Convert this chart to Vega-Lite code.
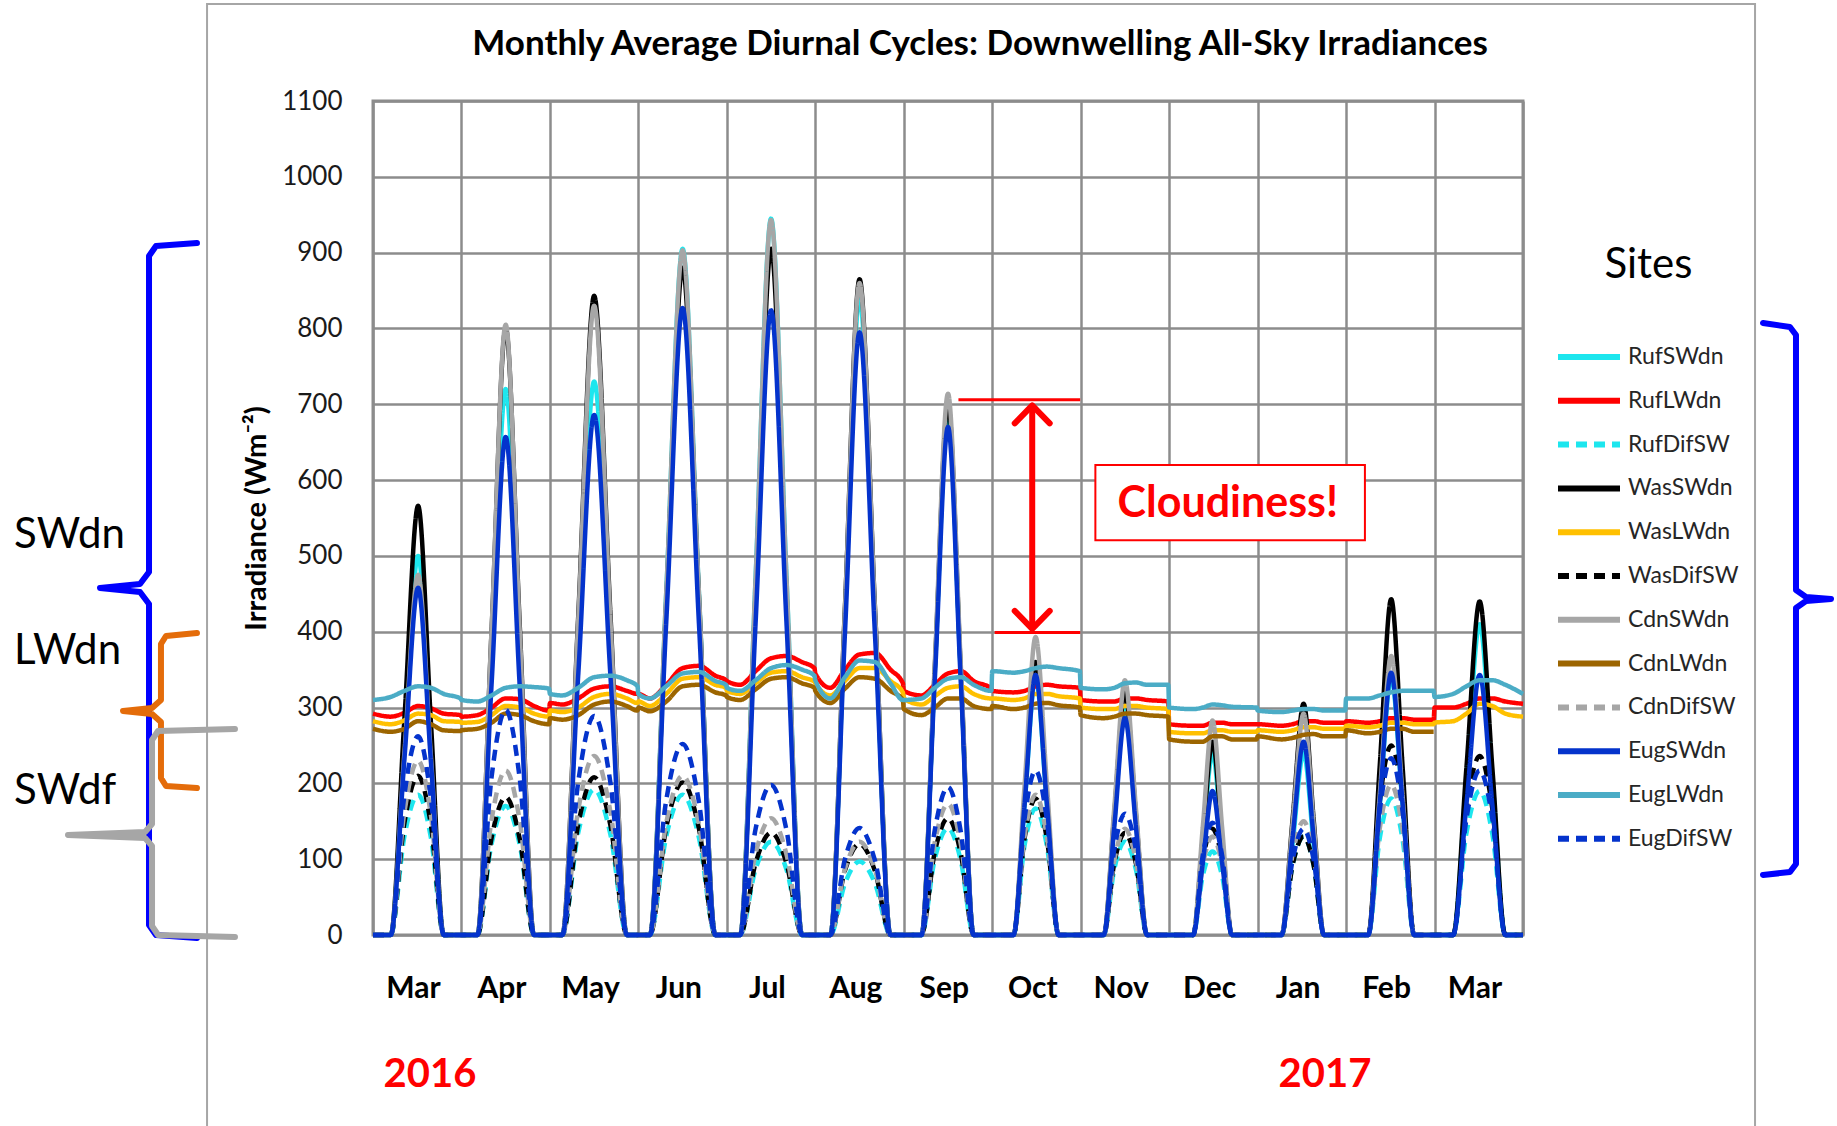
{
  "$schema": "https://vega.github.io/schema/vega-lite/v6.json",
  "width": 1150,
  "height": 834,
  "autosize": {"type": "none"},
  "padding": {"left": 373, "top": 101, "right": 314, "bottom": 191},
  "background": "white",
  "config": {"font": "Lato", "view": {"stroke": "#8c8c8c", "strokeWidth": 3}},
  "datasets": {
    "series": [
      {"x":0,"RufSWdn":0,"RufLWdn":292,"RufDifSW":0,"WasSWdn":0,"WasLWdn":282,"WasDifSW":0,"CdnSWdn":0,"CdnLWdn":272,"CdnDifSW":0,"EugSWdn":0,"EugLWdn":310,"EugDifSW":0},
      {"x":0.2,"RufSWdn":0,"RufLWdn":288,"RufDifSW":0,"WasSWdn":0,"WasLWdn":278,"WasDifSW":0,"CdnSWdn":0,"CdnLWdn":268,"CdnDifSW":0,"EugSWdn":0,"EugLWdn":314,"EugDifSW":0},
      {"x":0.355,"RufSWdn":255,"RufLWdn":293,"RufDifSW":130,"WasSWdn":285,"WasLWdn":283,"WasDifSW":148,"CdnSWdn":240,"CdnLWdn":272,"CdnDifSW":162,"EugSWdn":232,"EugLWdn":322,"EugDifSW":185},
      {"x":0.51,"RufSWdn":500,"RufLWdn":302,"RufDifSW":185,"WasSWdn":566,"WasLWdn":292,"WasDifSW":210,"CdnSWdn":475,"CdnLWdn":282,"CdnDifSW":230,"EugSWdn":458,"EugLWdn":328,"EugDifSW":262},
      {"x":0.655,"RufSWdn":250,"RufLWdn":299,"RufDifSW":128,"WasSWdn":280,"WasLWdn":290,"WasDifSW":145,"CdnSWdn":235,"CdnLWdn":278,"CdnDifSW":158,"EugSWdn":228,"EugLWdn":326,"EugDifSW":180},
      {"x":0.8,"RufSWdn":0,"RufLWdn":292,"RufDifSW":0,"WasSWdn":0,"WasLWdn":282,"WasDifSW":0,"CdnSWdn":0,"CdnLWdn":270,"CdnDifSW":0,"EugSWdn":0,"EugLWdn":318,"EugDifSW":0},
      {"x":0.99,"RufSWdn":0,"RufLWdn":290,"RufDifSW":0,"WasSWdn":0,"WasLWdn":281,"WasDifSW":0,"CdnSWdn":0,"CdnLWdn":269,"CdnDifSW":0,"EugSWdn":0,"EugLWdn":312,"EugDifSW":0},

      {"x":1,"RufSWdn":0,"RufLWdn":288,"RufDifSW":0,"WasSWdn":0,"WasLWdn":280,"WasDifSW":0,"CdnSWdn":0,"CdnLWdn":270,"CdnDifSW":0,"EugSWdn":0,"EugLWdn":310,"EugDifSW":0},
      {"x":1.18,"RufSWdn":0,"RufLWdn":290,"RufDifSW":0,"WasSWdn":0,"WasLWdn":281,"WasDifSW":0,"CdnSWdn":0,"CdnLWdn":272,"CdnDifSW":0,"EugSWdn":0,"EugLWdn":308,"EugDifSW":0},
      {"x":1.34,"RufSWdn":360,"RufLWdn":300,"RufDifSW":120,"WasSWdn":400,"WasLWdn":290,"WasDifSW":128,"CdnSWdn":402,"CdnLWdn":280,"CdnDifSW":152,"EugSWdn":330,"EugLWdn":316,"EugDifSW":208},
      {"x":1.5,"RufSWdn":720,"RufLWdn":312,"RufDifSW":170,"WasSWdn":800,"WasLWdn":302,"WasDifSW":182,"CdnSWdn":805,"CdnLWdn":292,"CdnDifSW":217,"EugSWdn":657,"EugLWdn":326,"EugDifSW":297},
      {"x":1.66,"RufSWdn":355,"RufLWdn":311,"RufDifSW":118,"WasSWdn":405,"WasLWdn":300,"WasDifSW":126,"CdnSWdn":398,"CdnLWdn":290,"CdnDifSW":150,"EugSWdn":325,"EugLWdn":328,"EugDifSW":205},
      {"x":1.82,"RufSWdn":0,"RufLWdn":302,"RufDifSW":0,"WasSWdn":0,"WasLWdn":292,"WasDifSW":0,"CdnSWdn":0,"CdnLWdn":282,"CdnDifSW":0,"EugSWdn":0,"EugLWdn":327,"EugDifSW":0},
      {"x":1.99,"RufSWdn":0,"RufLWdn":296,"RufDifSW":0,"WasSWdn":0,"WasLWdn":288,"WasDifSW":0,"CdnSWdn":0,"CdnLWdn":278,"CdnDifSW":0,"EugSWdn":0,"EugLWdn":325,"EugDifSW":0},

      {"x":2,"RufSWdn":0,"RufLWdn":306,"RufDifSW":0,"WasSWdn":0,"WasLWdn":296,"WasDifSW":0,"CdnSWdn":0,"CdnLWdn":286,"CdnDifSW":0,"EugSWdn":0,"EugLWdn":318,"EugDifSW":0},
      {"x":2.14,"RufSWdn":0,"RufLWdn":304,"RufDifSW":0,"WasSWdn":0,"WasLWdn":294,"WasDifSW":0,"CdnSWdn":0,"CdnLWdn":284,"CdnDifSW":0,"EugSWdn":0,"EugLWdn":316,"EugDifSW":0},
      {"x":2.32,"RufSWdn":365,"RufLWdn":312,"RufDifSW":135,"WasSWdn":420,"WasLWdn":300,"WasDifSW":146,"CdnSWdn":415,"CdnLWdn":290,"CdnDifSW":165,"EugSWdn":343,"EugLWdn":326,"EugDifSW":202},
      {"x":2.5,"RufSWdn":730,"RufLWdn":325,"RufDifSW":192,"WasSWdn":843,"WasLWdn":314,"WasDifSW":208,"CdnSWdn":830,"CdnLWdn":304,"CdnDifSW":236,"EugSWdn":686,"EugLWdn":340,"EugDifSW":289},
      {"x":2.685,"RufSWdn":365,"RufLWdn":328,"RufDifSW":132,"WasSWdn":420,"WasLWdn":318,"WasDifSW":144,"CdnSWdn":412,"CdnLWdn":308,"CdnDifSW":162,"EugSWdn":340,"EugLWdn":342,"EugDifSW":200},
      {"x":2.87,"RufSWdn":0,"RufLWdn":322,"RufDifSW":0,"WasSWdn":0,"WasLWdn":312,"WasDifSW":0,"CdnSWdn":0,"CdnLWdn":302,"CdnDifSW":0,"EugSWdn":0,"EugLWdn":336,"EugDifSW":0},
      {"x":2.99,"RufSWdn":0,"RufLWdn":318,"RufDifSW":0,"WasSWdn":0,"WasLWdn":306,"WasDifSW":0,"CdnSWdn":0,"CdnLWdn":296,"CdnDifSW":0,"EugSWdn":0,"EugLWdn":328,"EugDifSW":0},

      {"x":3,"RufSWdn":0,"RufLWdn":318,"RufDifSW":0,"WasSWdn":0,"WasLWdn":308,"WasDifSW":0,"CdnSWdn":0,"CdnLWdn":300,"CdnDifSW":0,"EugSWdn":0,"EugLWdn":318,"EugDifSW":0},
      {"x":3.13,"RufSWdn":0,"RufLWdn":312,"RufDifSW":0,"WasSWdn":0,"WasLWdn":302,"WasDifSW":0,"CdnSWdn":0,"CdnLWdn":295,"CdnDifSW":0,"EugSWdn":0,"EugLWdn":312,"EugDifSW":0},
      {"x":3.315,"RufSWdn":452,"RufLWdn":330,"RufDifSW":130,"WasSWdn":440,"WasLWdn":318,"WasDifSW":142,"CdnSWdn":452,"CdnLWdn":308,"CdnDifSW":148,"EugSWdn":413,"EugLWdn":328,"EugDifSW":178},
      {"x":3.5,"RufSWdn":905,"RufLWdn":352,"RufDifSW":185,"WasSWdn":880,"WasLWdn":338,"WasDifSW":201,"CdnSWdn":903,"CdnLWdn":328,"CdnDifSW":210,"EugSWdn":827,"EugLWdn":345,"EugDifSW":252},
      {"x":3.685,"RufSWdn":450,"RufLWdn":355,"RufDifSW":128,"WasSWdn":445,"WasLWdn":340,"WasDifSW":140,"CdnSWdn":450,"CdnLWdn":330,"CdnDifSW":146,"EugSWdn":410,"EugLWdn":347,"EugDifSW":175},
      {"x":3.87,"RufSWdn":0,"RufLWdn":342,"RufDifSW":0,"WasSWdn":0,"WasLWdn":330,"WasDifSW":0,"CdnSWdn":0,"CdnLWdn":320,"CdnDifSW":0,"EugSWdn":0,"EugLWdn":335,"EugDifSW":0},
      {"x":3.99,"RufSWdn":0,"RufLWdn":336,"RufDifSW":0,"WasSWdn":0,"WasLWdn":326,"WasDifSW":0,"CdnSWdn":0,"CdnLWdn":316,"CdnDifSW":0,"EugSWdn":0,"EugLWdn":330,"EugDifSW":0},

      {"x":4,"RufSWdn":0,"RufLWdn":335,"RufDifSW":0,"WasSWdn":0,"WasLWdn":322,"WasDifSW":0,"CdnSWdn":0,"CdnLWdn":314,"CdnDifSW":0,"EugSWdn":0,"EugLWdn":326,"EugDifSW":0},
      {"x":4.15,"RufSWdn":0,"RufLWdn":330,"RufDifSW":0,"WasSWdn":0,"WasLWdn":318,"WasDifSW":0,"CdnSWdn":0,"CdnLWdn":310,"CdnDifSW":0,"EugSWdn":0,"EugLWdn":322,"EugDifSW":0},
      {"x":4.325,"RufSWdn":472,"RufLWdn":348,"RufDifSW":87,"WasSWdn":452,"WasLWdn":332,"WasDifSW":95,"CdnSWdn":470,"CdnLWdn":324,"CdnDifSW":108,"EugSWdn":412,"EugLWdn":336,"EugDifSW":140},
      {"x":4.5,"RufSWdn":945,"RufLWdn":365,"RufDifSW":123,"WasSWdn":905,"WasLWdn":346,"WasDifSW":135,"CdnSWdn":943,"CdnLWdn":338,"CdnDifSW":154,"EugSWdn":824,"EugLWdn":352,"EugDifSW":198},
      {"x":4.675,"RufSWdn":470,"RufLWdn":368,"RufDifSW":86,"WasSWdn":450,"WasLWdn":348,"WasDifSW":94,"CdnSWdn":468,"CdnLWdn":340,"CdnDifSW":106,"EugSWdn":410,"EugLWdn":356,"EugDifSW":138},
      {"x":4.85,"RufSWdn":0,"RufLWdn":360,"RufDifSW":0,"WasSWdn":0,"WasLWdn":340,"WasDifSW":0,"CdnSWdn":0,"CdnLWdn":332,"CdnDifSW":0,"EugSWdn":0,"EugLWdn":350,"EugDifSW":0},
      {"x":4.99,"RufSWdn":0,"RufLWdn":352,"RufDifSW":0,"WasSWdn":0,"WasLWdn":334,"WasDifSW":0,"CdnSWdn":0,"CdnLWdn":326,"CdnDifSW":0,"EugSWdn":0,"EugLWdn":342,"EugDifSW":0},

      {"x":5,"RufSWdn":0,"RufLWdn":345,"RufDifSW":0,"WasSWdn":0,"WasLWdn":332,"WasDifSW":0,"CdnSWdn":0,"CdnLWdn":322,"CdnDifSW":0,"EugSWdn":0,"EugLWdn":336,"EugDifSW":0},
      {"x":5.17,"RufSWdn":0,"RufLWdn":326,"RufDifSW":0,"WasSWdn":0,"WasLWdn":316,"WasDifSW":0,"CdnSWdn":0,"CdnLWdn":306,"CdnDifSW":0,"EugSWdn":0,"EugLWdn":312,"EugDifSW":0},
      {"x":5.335,"RufSWdn":420,"RufLWdn":350,"RufDifSW":68,"WasSWdn":432,"WasLWdn":335,"WasDifSW":85,"CdnSWdn":430,"CdnLWdn":325,"CdnDifSW":87,"EugSWdn":398,"EugLWdn":340,"EugDifSW":100},
      {"x":5.5,"RufSWdn":840,"RufLWdn":370,"RufDifSW":97,"WasSWdn":865,"WasLWdn":352,"WasDifSW":120,"CdnSWdn":860,"CdnLWdn":340,"CdnDifSW":123,"EugSWdn":795,"EugLWdn":362,"EugDifSW":141},
      {"x":5.675,"RufSWdn":418,"RufLWdn":372,"RufDifSW":68,"WasSWdn":430,"WasLWdn":352,"WasDifSW":84,"CdnSWdn":428,"CdnLWdn":338,"CdnDifSW":86,"EugSWdn":395,"EugLWdn":360,"EugDifSW":98},
      {"x":5.85,"RufSWdn":0,"RufLWdn":350,"RufDifSW":0,"WasSWdn":0,"WasLWdn":335,"WasDifSW":0,"CdnSWdn":0,"CdnLWdn":322,"CdnDifSW":0,"EugSWdn":0,"EugLWdn":332,"EugDifSW":0},
      {"x":5.99,"RufSWdn":0,"RufLWdn":332,"RufDifSW":0,"WasSWdn":0,"WasLWdn":320,"WasDifSW":0,"CdnSWdn":0,"CdnLWdn":310,"CdnDifSW":0,"EugSWdn":0,"EugLWdn":310,"EugDifSW":0},

      {"x":6,"RufSWdn":0,"RufLWdn":322,"RufDifSW":0,"WasSWdn":0,"WasLWdn":312,"WasDifSW":0,"CdnSWdn":0,"CdnLWdn":298,"CdnDifSW":0,"EugSWdn":0,"EugLWdn":310,"EugDifSW":0},
      {"x":6.2,"RufSWdn":0,"RufLWdn":316,"RufDifSW":0,"WasSWdn":0,"WasLWdn":304,"WasDifSW":0,"CdnSWdn":0,"CdnLWdn":290,"CdnDifSW":0,"EugSWdn":0,"EugLWdn":312,"EugDifSW":0},
      {"x":6.35,"RufSWdn":345,"RufLWdn":330,"RufDifSW":100,"WasSWdn":350,"WasLWdn":315,"WasDifSW":109,"CdnSWdn":357,"CdnLWdn":300,"CdnDifSW":122,"EugSWdn":335,"EugLWdn":326,"EugDifSW":138},
      {"x":6.5,"RufSWdn":690,"RufLWdn":345,"RufDifSW":141,"WasSWdn":700,"WasLWdn":326,"WasDifSW":154,"CdnSWdn":714,"CdnLWdn":312,"CdnDifSW":173,"EugSWdn":670,"EugLWdn":338,"EugDifSW":195},
      {"x":6.645,"RufSWdn":343,"RufLWdn":348,"RufDifSW":98,"WasSWdn":348,"WasLWdn":328,"WasDifSW":107,"CdnSWdn":355,"CdnLWdn":312,"CdnDifSW":120,"EugSWdn":333,"EugLWdn":340,"EugDifSW":136},
      {"x":6.79,"RufSWdn":0,"RufLWdn":335,"RufDifSW":0,"WasSWdn":0,"WasLWdn":318,"WasDifSW":0,"CdnSWdn":0,"CdnLWdn":302,"CdnDifSW":0,"EugSWdn":0,"EugLWdn":330,"EugDifSW":0},
      {"x":6.99,"RufSWdn":0,"RufLWdn":325,"RufDifSW":0,"WasSWdn":0,"WasLWdn":312,"WasDifSW":0,"CdnSWdn":0,"CdnLWdn":298,"CdnDifSW":0,"EugSWdn":0,"EugLWdn":322,"EugDifSW":0},

      {"x":7,"RufSWdn":0,"RufLWdn":322,"RufDifSW":0,"WasSWdn":0,"WasLWdn":312,"WasDifSW":0,"CdnSWdn":0,"CdnLWdn":302,"CdnDifSW":0,"EugSWdn":0,"EugLWdn":348,"EugDifSW":0},
      {"x":7.24,"RufSWdn":0,"RufLWdn":320,"RufDifSW":0,"WasSWdn":0,"WasLWdn":310,"WasDifSW":0,"CdnSWdn":0,"CdnLWdn":298,"CdnDifSW":0,"EugSWdn":0,"EugLWdn":346,"EugDifSW":0},
      {"x":7.365,"RufSWdn":170,"RufLWdn":322,"RufDifSW":118,"WasSWdn":180,"WasLWdn":312,"WasDifSW":127,"CdnSWdn":196,"CdnLWdn":300,"CdnDifSW":130,"EugSWdn":172,"EugLWdn":348,"EugDifSW":153},
      {"x":7.49,"RufSWdn":340,"RufLWdn":328,"RufDifSW":167,"WasSWdn":360,"WasLWdn":318,"WasDifSW":180,"CdnSWdn":393,"CdnLWdn":305,"CdnDifSW":185,"EugSWdn":343,"EugLWdn":352,"EugDifSW":217},
      {"x":7.62,"RufSWdn":168,"RufLWdn":330,"RufDifSW":116,"WasSWdn":178,"WasLWdn":318,"WasDifSW":125,"CdnSWdn":195,"CdnLWdn":306,"CdnDifSW":128,"EugSWdn":170,"EugLWdn":354,"EugDifSW":150},
      {"x":7.75,"RufSWdn":0,"RufLWdn":328,"RufDifSW":0,"WasSWdn":0,"WasLWdn":315,"WasDifSW":0,"CdnSWdn":0,"CdnLWdn":303,"CdnDifSW":0,"EugSWdn":0,"EugLWdn":352,"EugDifSW":0},
      {"x":7.99,"RufSWdn":0,"RufLWdn":326,"RufDifSW":0,"WasSWdn":0,"WasLWdn":312,"WasDifSW":0,"CdnSWdn":0,"CdnLWdn":300,"CdnDifSW":0,"EugSWdn":0,"EugLWdn":348,"EugDifSW":0},

      {"x":8,"RufSWdn":0,"RufLWdn":310,"RufDifSW":0,"WasSWdn":0,"WasLWdn":300,"WasDifSW":0,"CdnSWdn":0,"CdnLWdn":290,"CdnDifSW":0,"EugSWdn":0,"EugLWdn":326,"EugDifSW":0},
      {"x":8.26,"RufSWdn":0,"RufLWdn":308,"RufDifSW":0,"WasSWdn":0,"WasLWdn":298,"WasDifSW":0,"CdnSWdn":0,"CdnLWdn":286,"CdnDifSW":0,"EugSWdn":0,"EugLWdn":324,"EugDifSW":0},
      {"x":8.38,"RufSWdn":150,"RufLWdn":308,"RufDifSW":87,"WasSWdn":160,"WasLWdn":298,"WasDifSW":95,"CdnSWdn":168,"CdnLWdn":288,"CdnDifSW":99,"EugSWdn":143,"EugLWdn":326,"EugDifSW":113},
      {"x":8.5,"RufSWdn":300,"RufLWdn":312,"RufDifSW":123,"WasSWdn":320,"WasLWdn":302,"WasDifSW":135,"CdnSWdn":336,"CdnLWdn":292,"CdnDifSW":140,"EugSWdn":286,"EugLWdn":332,"EugDifSW":160},
      {"x":8.625,"RufSWdn":148,"RufLWdn":312,"RufDifSW":86,"WasSWdn":158,"WasLWdn":302,"WasDifSW":94,"CdnSWdn":166,"CdnLWdn":292,"CdnDifSW":98,"EugSWdn":142,"EugLWdn":333,"EugDifSW":112},
      {"x":8.75,"RufSWdn":0,"RufLWdn":310,"RufDifSW":0,"WasSWdn":0,"WasLWdn":300,"WasDifSW":0,"CdnSWdn":0,"CdnLWdn":290,"CdnDifSW":0,"EugSWdn":0,"EugLWdn":330,"EugDifSW":0},
      {"x":8.99,"RufSWdn":0,"RufLWdn":308,"RufDifSW":0,"WasSWdn":0,"WasLWdn":298,"WasDifSW":0,"CdnSWdn":0,"CdnLWdn":288,"CdnDifSW":0,"EugSWdn":0,"EugLWdn":330,"EugDifSW":0},

      {"x":9,"RufSWdn":0,"RufLWdn":278,"RufDifSW":0,"WasSWdn":0,"WasLWdn":268,"WasDifSW":0,"CdnSWdn":0,"CdnLWdn":258,"CdnDifSW":0,"EugSWdn":0,"EugLWdn":300,"EugDifSW":0},
      {"x":9.27,"RufSWdn":0,"RufLWdn":276,"RufDifSW":0,"WasSWdn":0,"WasLWdn":266,"WasDifSW":0,"CdnSWdn":0,"CdnLWdn":255,"CdnDifSW":0,"EugSWdn":0,"EugLWdn":298,"EugDifSW":0},
      {"x":9.38,"RufSWdn":120,"RufLWdn":276,"RufDifSW":78,"WasSWdn":128,"WasLWdn":266,"WasDifSW":99,"CdnSWdn":142,"CdnLWdn":255,"CdnDifSW":92,"EugSWdn":95,"EugLWdn":300,"EugDifSW":105},
      {"x":9.49,"RufSWdn":240,"RufLWdn":280,"RufDifSW":110,"WasSWdn":255,"WasLWdn":270,"WasDifSW":140,"CdnSWdn":283,"CdnLWdn":262,"CdnDifSW":130,"EugSWdn":190,"EugLWdn":304,"EugDifSW":148},
      {"x":9.6,"RufSWdn":118,"RufLWdn":280,"RufDifSW":77,"WasSWdn":126,"WasLWdn":270,"WasDifSW":98,"CdnSWdn":140,"CdnLWdn":262,"CdnDifSW":91,"EugSWdn":94,"EugLWdn":303,"EugDifSW":104},
      {"x":9.71,"RufSWdn":0,"RufLWdn":278,"RufDifSW":0,"WasSWdn":0,"WasLWdn":268,"WasDifSW":0,"CdnSWdn":0,"CdnLWdn":258,"CdnDifSW":0,"EugSWdn":0,"EugLWdn":301,"EugDifSW":0},
      {"x":9.99,"RufSWdn":0,"RufLWdn":278,"RufDifSW":0,"WasSWdn":0,"WasLWdn":268,"WasDifSW":0,"CdnSWdn":0,"CdnLWdn":258,"CdnDifSW":0,"EugSWdn":0,"EugLWdn":300,"EugDifSW":0},

      {"x":10,"RufSWdn":0,"RufLWdn":278,"RufDifSW":0,"WasSWdn":0,"WasLWdn":270,"WasDifSW":0,"CdnSWdn":0,"CdnLWdn":262,"CdnDifSW":0,"EugSWdn":0,"EugLWdn":296,"EugDifSW":0},
      {"x":10.27,"RufSWdn":0,"RufLWdn":276,"RufDifSW":0,"WasSWdn":0,"WasLWdn":268,"WasDifSW":0,"CdnSWdn":0,"CdnLWdn":258,"CdnDifSW":0,"EugSWdn":0,"EugLWdn":294,"EugDifSW":0},
      {"x":10.395,"RufSWdn":120,"RufLWdn":278,"RufDifSW":92,"WasSWdn":152,"WasLWdn":270,"WasDifSW":92,"CdnSWdn":146,"CdnLWdn":260,"CdnDifSW":106,"EugSWdn":128,"EugLWdn":296,"EugDifSW":99},
      {"x":10.52,"RufSWdn":240,"RufLWdn":282,"RufDifSW":130,"WasSWdn":305,"WasLWdn":274,"WasDifSW":130,"CdnSWdn":292,"CdnLWdn":264,"CdnDifSW":150,"EugSWdn":255,"EugLWdn":298,"EugDifSW":140},
      {"x":10.635,"RufSWdn":118,"RufLWdn":282,"RufDifSW":91,"WasSWdn":150,"WasLWdn":274,"WasDifSW":91,"CdnSWdn":144,"CdnLWdn":265,"CdnDifSW":104,"EugSWdn":126,"EugLWdn":298,"EugDifSW":98},
      {"x":10.75,"RufSWdn":0,"RufLWdn":280,"RufDifSW":0,"WasSWdn":0,"WasLWdn":272,"WasDifSW":0,"CdnSWdn":0,"CdnLWdn":262,"CdnDifSW":0,"EugSWdn":0,"EugLWdn":296,"EugDifSW":0},
      {"x":10.99,"RufSWdn":0,"RufLWdn":280,"RufDifSW":0,"WasSWdn":0,"WasLWdn":272,"WasDifSW":0,"CdnSWdn":0,"CdnLWdn":262,"CdnDifSW":0,"EugSWdn":0,"EugLWdn":296,"EugDifSW":0},

      {"x":11,"RufSWdn":0,"RufLWdn":282,"RufDifSW":0,"WasSWdn":0,"WasLWdn":276,"WasDifSW":0,"CdnSWdn":0,"CdnLWdn":270,"CdnDifSW":0,"EugSWdn":0,"EugLWdn":312,"EugDifSW":0},
      {"x":11.25,"RufSWdn":0,"RufLWdn":280,"RufDifSW":0,"WasSWdn":0,"WasLWdn":274,"WasDifSW":0,"CdnSWdn":0,"CdnLWdn":266,"CdnDifSW":0,"EugSWdn":0,"EugLWdn":312,"EugDifSW":0},
      {"x":11.38,"RufSWdn":170,"RufLWdn":282,"RufDifSW":127,"WasSWdn":222,"WasLWdn":276,"WasDifSW":176,"CdnSWdn":184,"CdnLWdn":268,"CdnDifSW":140,"EugSWdn":173,"EugLWdn":316,"EugDifSW":164},
      {"x":11.51,"RufSWdn":340,"RufLWdn":286,"RufDifSW":180,"WasSWdn":443,"WasLWdn":280,"WasDifSW":250,"CdnSWdn":368,"CdnLWdn":272,"CdnDifSW":198,"EugSWdn":346,"EugLWdn":320,"EugDifSW":233},
      {"x":11.64,"RufSWdn":168,"RufLWdn":286,"RufDifSW":125,"WasSWdn":220,"WasLWdn":280,"WasDifSW":174,"CdnSWdn":182,"CdnLWdn":272,"CdnDifSW":138,"EugSWdn":172,"EugLWdn":322,"EugDifSW":162},
      {"x":11.77,"RufSWdn":0,"RufLWdn":284,"RufDifSW":0,"WasSWdn":0,"WasLWdn":278,"WasDifSW":0,"CdnSWdn":0,"CdnLWdn":268,"CdnDifSW":0,"EugSWdn":0,"EugLWdn":322,"EugDifSW":0},
      {"x":11.99,"RufSWdn":0,"RufLWdn":284,"RufDifSW":0,"WasSWdn":0,"WasLWdn":278,"WasDifSW":0,"CdnSWdn":0,"CdnLWdn":268,"CdnDifSW":0,"EugSWdn":0,"EugLWdn":322,"EugDifSW":0},

      {"x":12,"RufSWdn":0,"RufLWdn":300,"RufDifSW":0,"WasSWdn":0,"WasLWdn":280,"WasDifSW":0,"EugSWdn":0,"EugLWdn":314,"EugDifSW":0},
      {"x":12.21,"RufSWdn":0,"RufLWdn":300,"RufDifSW":0,"WasSWdn":0,"WasLWdn":282,"WasDifSW":0,"EugSWdn":0,"EugLWdn":318,"EugDifSW":0},
      {"x":12.36,"RufSWdn":205,"RufLWdn":305,"RufDifSW":134,"WasSWdn":220,"WasLWdn":292,"WasDifSW":166,"EugSWdn":172,"EugLWdn":328,"EugDifSW":153},
      {"x":12.51,"RufSWdn":410,"RufLWdn":312,"RufDifSW":190,"WasSWdn":440,"WasLWdn":305,"WasDifSW":236,"EugSWdn":343,"EugLWdn":336,"EugDifSW":217},
      {"x":12.655,"RufSWdn":204,"RufLWdn":312,"RufDifSW":132,"WasSWdn":218,"WasLWdn":302,"WasDifSW":165,"EugSWdn":170,"EugLWdn":336,"EugDifSW":152},
      {"x":12.8,"RufSWdn":0,"RufLWdn":308,"RufDifSW":0,"WasSWdn":0,"WasLWdn":292,"WasDifSW":0,"EugSWdn":0,"EugLWdn":330,"EugDifSW":0},
      {"x":13,"RufSWdn":0,"RufLWdn":305,"RufDifSW":0,"WasSWdn":0,"WasLWdn":288,"WasDifSW":0,"EugSWdn":0,"EugLWdn":318,"EugDifSW":0}
    ],
    "braces": [
      {"b":"blue","i":1,"x":-1.990,"y":912.7},{"b":"blue","i":2,"x":-2.453,"y":908.7},{"b":"blue","i":3,"x":-2.532,"y":895.5},{"b":"blue","i":4,"x":-2.532,"y":478.8},{"b":"blue","i":5,"x":-2.634,"y":462.9},{"b":"blue","i":6,"x":-3.086,"y":457.7},{"b":"blue","i":7,"x":-2.634,"y":452.4},{"b":"blue","i":8,"x":-2.532,"y":436.6},{"b":"blue","i":9,"x":-2.532,"y":13.2},{"b":"blue","i":10,"x":-2.453,"y":0},{"b":"blue","i":11,"x":-1.990,"y":-4},
      {"b":"orange","i":1,"x":-1.990,"y":398.3},{"b":"orange","i":2,"x":-2.340,"y":394.4},{"b":"orange","i":3,"x":-2.397,"y":383.8},{"b":"orange","i":4,"x":-2.397,"y":309.9},{"b":"orange","i":5,"x":-2.498,"y":299.4},{"b":"orange","i":6,"x":-2.826,"y":295.4},{"b":"orange","i":7,"x":-2.498,"y":291.5},{"b":"orange","i":8,"x":-2.397,"y":280.9},{"b":"orange","i":9,"x":-2.397,"y":207.1},{"b":"orange","i":10,"x":-2.340,"y":196.5},{"b":"orange","i":11,"x":-1.990,"y":193.9},
      {"b":"gray","i":1,"x":-1.560,"y":271.7},{"b":"gray","i":2,"x":-2.430,"y":269.1},{"b":"gray","i":3,"x":-2.498,"y":257.2},{"b":"gray","i":4,"x":-2.498,"y":146.4},{"b":"gray","i":5,"x":-2.577,"y":135.9},{"b":"gray","i":6,"x":-3.448,"y":131.9},{"b":"gray","i":7,"x":-2.577,"y":127.9},{"b":"gray","i":8,"x":-2.498,"y":117.4},{"b":"gray","i":9,"x":-2.498,"y":11.9},{"b":"gray","i":10,"x":-2.430,"y":0},{"b":"gray","i":11,"x":-1.560,"y":-2.6},
      {"b":"right","i":1,"x":15.713,"y":807.2},{"b":"right","i":2,"x":16.018,"y":801.9},{"b":"right","i":3,"x":16.086,"y":791.4},{"b":"right","i":4,"x":16.086,"y":455.0},{"b":"right","i":5,"x":16.199,"y":445.8},{"b":"right","i":6,"x":16.482,"y":443.2},{"b":"right","i":7,"x":16.199,"y":440.5},{"b":"right","i":8,"x":16.086,"y":431.3},{"b":"right","i":9,"x":16.086,"y":93.6},{"b":"right","i":10,"x":16.018,"y":83.1},{"b":"right","i":11,"x":15.713,"y":79.1}
    ],
    "notes": [
      {"k":"title","x":6.862,"y":1175,"text":"Monthly Average Diurnal Cycles: Downwelling All-Sky Irradiances"},
      {"k":"year","x":0.644,"y":-185,"text":"2016"},
      {"k":"year","x":10.762,"y":-185,"text":"2017"},
      {"k":"sites","x":14.418,"y":884,"text":"Sites"},
      {"k":"brace","x":-4.058,"y":527,"text":"SWdn"},
      {"k":"brace","x":-4.058,"y":374,"text":"LWdn"},
      {"k":"brace","x":-4.058,"y":190,"text":"SWdf"},
      {"k":"cloud","x":9.663,"y":569,"text":"Cloudiness!"}
    ],
    "hlines": [
      {"x":6.618,"x2":7.994,"y":706},
      {"x":7.028,"x2":7.994,"y":399}
    ],
    "shaft": [{"x":7.452,"y":699,"y2":404}],
    "headUp": [{"x":7.452,"y":686.4}],
    "headDown": [{"x":7.452,"y":415.9}],
    "box": [{"x":8.166,"x2":11.213,"y":619.8,"y2":520.8}],
    "frame": [{"x":-1.876,"x2":15.623,"y":1228,"y2":-270}]
  },
  "encoding": {
    "x": {"field": "x", "type": "quantitative", "scale": {"domain": [0, 13], "nice": false, "zero": false},
      "axis": {"values": [0,1,2,3,4,5,6,7,8,9,10,11,12,13], "grid": true, "gridColor": "#8c8c8c", "gridWidth": 2.5, "domain": false, "ticks": false,
        "labelExpr": "['Mar','Apr','May','Jun','Jul','Aug','Sep','Oct','Nov','Dec','Jan','Feb','Mar',''][datum.value]",
        "labelOffset": 40, "labelPadding": 38, "labelFont": "Lato", "labelFontSize": 30, "labelFontWeight": "bold", "labelColor": "#000000",
        "labelOverlap": false, "labelFlush": false, "labelBound": false, "title": null}},
    "y": {"field": "y", "type": "quantitative", "scale": {"domain": [0, 1100], "nice": false},
      "axis": {"values": [0,100,200,300,400,500,600,700,800,900,1000,1100], "format": "d", "grid": true, "gridColor": "#8c8c8c", "gridWidth": 2.5, "domain": false, "ticks": false,
        "labelPadding": 31, "labelFont": "Lato", "labelFontSize": 26, "labelColor": "#1a1a1a", "labelOverlap": false, "labelFlush": false,
        "title": "Irradiance (Wm⁻²)", "titleFont": "Lato", "titleFontSize": 29, "titleFontWeight": "bold", "titleColor": "#000000", "titlePadding": 10}}
  },
  "layer": [
    {"data": {"name": "frame"}, "mark": {"type": "rect", "fill": "transparent", "stroke": "#a6a6a6", "strokeWidth": 2},
      "encoding": {"x2": {"field": "x2"}, "y2": {"field": "y2"}}},
    {"data": {"name": "series"},
      "transform": [
        {"fold": ["RufSWdn","RufLWdn","RufDifSW","WasSWdn","WasLWdn","WasDifSW","CdnSWdn","CdnLWdn","CdnDifSW","EugSWdn","EugLWdn","EugDifSW"], "as": ["series", "y"]},
        {"filter": "isValid(datum.y)"}
      ],
      "mark": {"type": "line", "interpolate": "monotone", "strokeWidth": 4.5},
      "encoding": {
        "color": {"field": "series", "type": "nominal",
          "scale": {"domain": ["RufSWdn","RufLWdn","RufDifSW","WasSWdn","WasLWdn","WasDifSW","CdnSWdn","CdnLWdn","CdnDifSW","EugSWdn","EugLWdn","EugDifSW"],
            "range": ["#1de6ee","#ff0000","#1de6ee","#000000","#ffc000","#000000","#a6a6a6","#9c6500","#a6a6a6","#0433cc","#4bacc6","#0433cc"]},
          "legend": {"title": null, "orient": "none", "legendX": 1182, "legendY": 245, "symbolType": "stroke", "symbolSize": 3844, "symbolStrokeWidth": 6, "clipHeight": 22, "rowPadding": 20.8, "labelFont": "Lato", "labelFontSize": 23, "labelColor": "#262626", "labelOffset": 5, "padding": 0}},
        "strokeDash": {"field": "series", "type": "nominal",
          "scale": {"domain": ["RufSWdn","RufLWdn","RufDifSW","WasSWdn","WasLWdn","WasDifSW","CdnSWdn","CdnLWdn","CdnDifSW","EugSWdn","EugLWdn","EugDifSW"],
            "range": [[1,0],[1,0],[11,7],[1,0],[1,0],[11,7],[1,0],[1,0],[11,7],[1,0],[1,0],[11,7]]},
          "legend": {"title": null, "orient": "none", "legendX": 1182, "legendY": 245, "symbolType": "stroke", "symbolSize": 3844, "symbolStrokeWidth": 6, "clipHeight": 22, "rowPadding": 20.8, "labelFont": "Lato", "labelFontSize": 23, "labelColor": "#262626", "labelOffset": 5, "padding": 0}}
      }},
    {"data": {"name": "braces"}, "transform": [{"filter": "datum.b == 'blue'"}], "mark": {"type": "line", "color": "#0000ff", "strokeWidth": 6, "strokeJoin": "round", "strokeCap": "round"}, "encoding": {"order": {"field": "i"}}},
    {"data": {"name": "braces"}, "transform": [{"filter": "datum.b == 'orange'"}], "mark": {"type": "line", "color": "#e46c0a", "strokeWidth": 6, "strokeJoin": "round", "strokeCap": "round"}, "encoding": {"order": {"field": "i"}}},
    {"data": {"name": "braces"}, "transform": [{"filter": "datum.b == 'gray'"}], "mark": {"type": "line", "color": "#a6a6a6", "strokeWidth": 6, "strokeJoin": "round", "strokeCap": "round"}, "encoding": {"order": {"field": "i"}}},
    {"data": {"name": "braces"}, "transform": [{"filter": "datum.b == 'right'"}], "mark": {"type": "line", "color": "#0000ff", "strokeWidth": 6, "strokeJoin": "round", "strokeCap": "round"}, "encoding": {"order": {"field": "i"}}},
    {"data": {"name": "hlines"}, "mark": {"type": "rule", "color": "#ff0000", "strokeWidth": 3}, "encoding": {"x2": {"field": "x2"}}},
    {"data": {"name": "shaft"}, "mark": {"type": "rule", "color": "#ff0000", "strokeWidth": 6}, "encoding": {"y2": {"field": "y2"}}},
    {"data": {"name": "headUp"}, "mark": {"type": "point", "shape": "M-1,0.5L0,-0.53L1,0.5", "filled": false, "size": 1225, "color": "#ff0000", "strokeWidth": 6, "opacity": 1, "strokeCap": "round", "strokeJoin": "round"}},
    {"data": {"name": "headDown"}, "mark": {"type": "point", "shape": "M-1,-0.5L0,0.53L1,-0.5", "filled": false, "size": 1225, "color": "#ff0000", "strokeWidth": 6, "opacity": 1, "strokeCap": "round", "strokeJoin": "round"}},
    {"data": {"name": "box"}, "mark": {"type": "rect", "fill": "#ffffff", "stroke": "#ff0000", "strokeWidth": 2}, "encoding": {"x2": {"field": "x2"}, "y2": {"field": "y2"}}},
    {"data": {"name": "notes"}, "transform": [{"filter": "datum.k == 'title'"}], "mark": {"type": "text", "font": "Lato", "fontSize": 35, "fontWeight": "bold", "color": "#000000", "align": "center", "baseline": "middle"}, "encoding": {"text": {"field": "text"}}},
    {"data": {"name": "notes"}, "transform": [{"filter": "datum.k == 'year'"}], "mark": {"type": "text", "font": "Lato", "fontSize": 40, "fontWeight": "bold", "color": "#ff0000", "align": "center", "baseline": "middle"}, "encoding": {"text": {"field": "text"}}},
    {"data": {"name": "notes"}, "transform": [{"filter": "datum.k == 'sites'"}], "mark": {"type": "text", "font": "Lato", "fontSize": 42, "color": "#000000", "align": "center", "baseline": "middle"}, "encoding": {"text": {"field": "text"}}},
    {"data": {"name": "notes"}, "transform": [{"filter": "datum.k == 'brace'"}], "mark": {"type": "text", "font": "Lato", "fontSize": 42, "color": "#000000", "align": "left", "baseline": "middle"}, "encoding": {"text": {"field": "text"}}},
    {"data": {"name": "notes"}, "transform": [{"filter": "datum.k == 'cloud'"}], "mark": {"type": "text", "font": "Lato", "fontSize": 43, "fontWeight": "bold", "color": "#ff0000", "align": "center", "baseline": "middle"}, "encoding": {"text": {"field": "text"}}}
  ]
}
